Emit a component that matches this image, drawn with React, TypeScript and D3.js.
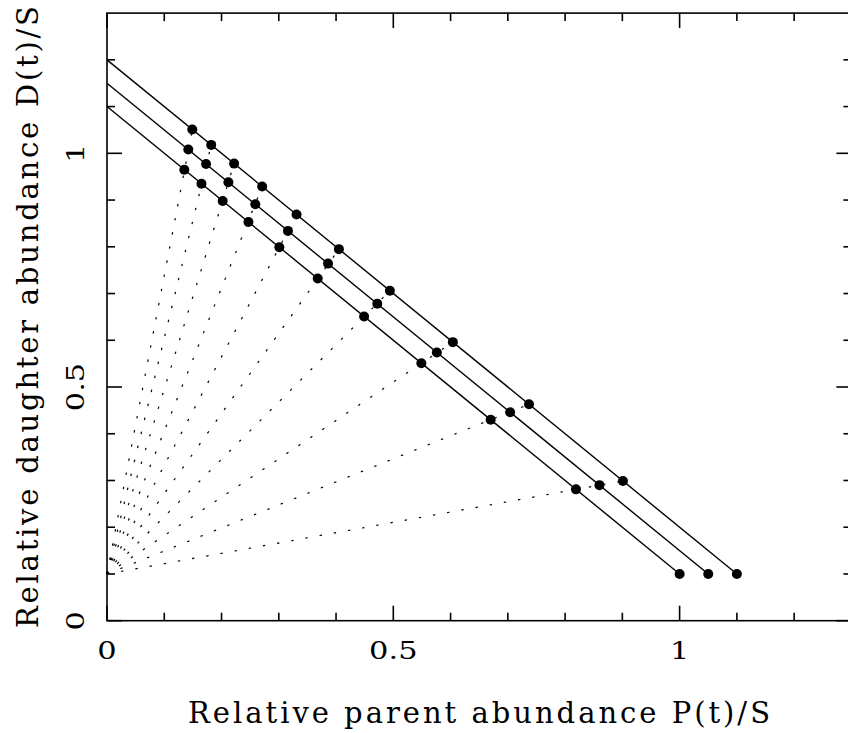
import React from "react";
import * as d3 from "d3";

// Initial daughter abundance shared by all samples
const D0 = 0.1;
// Initial parent abundance of each sample (P0)
const initialParent = [1.0, 1.05, 1.1];
// Intercept of each sample's evolution line at P = 0
const lineIntercepts = [1.1, 1.15, 1.2];

// Parent abundance P(t)/S at successive times for each sample
const parentInner = [1.0, 0.819, 0.67, 0.549, 0.449, 0.368, 0.301, 0.247, 0.202, 0.165, 0.135];
const parentMiddle = [1.05, 0.86, 0.704, 0.576, 0.472, 0.386, 0.316, 0.259, 0.212, 0.173, 0.142];
const parentOuter = [1.1, 0.901, 0.737, 0.604, 0.494, 0.405, 0.331, 0.271, 0.222, 0.182, 0.149];

// Daughter abundance D(t)/S at the same times
const daughterInner = [0.1, 0.281, 0.43, 0.551, 0.651, 0.732, 0.799, 0.853, 0.898, 0.935, 0.965];
const daughterMiddle = [0.1, 0.29, 0.446, 0.574, 0.678, 0.764, 0.834, 0.891, 0.938, 0.977, 1.008];
const daughterOuter = [0.1, 0.299, 0.463, 0.596, 0.706, 0.795, 0.869, 0.929, 0.978, 1.018, 1.051];

const xMajorTicks = [0, 0.5, 1];
const yMajorTicks = [0, 0.5, 1];
const xTickLabels = ["0", "0.5", "1"];
const yTickLabels = ["0", "0.5", "1"];
const minorTicks = [0.1, 0.2, 0.3, 0.4, 0.6, 0.7, 0.8, 0.9, 1.1, 1.2];

const xLabel = "Relative parent abundance P(t)/S";
const yLabel = "Relative daughter abundance D(t)/S";

const W = 848;
const H = 733;
const FONT = "'DejaVu Serif', serif";

export default function App() {
  const x = d3.scaleLinear().domain([0, 1.3]).range([107, 851.4]);
  const y = d3.scaleLinear().domain([0, 1.3]).range([620.7, 13.1]);
  const line = d3
    .line<[number, number]>()
    .x((d) => x(d[0]))
    .y((d) => y(d[1]));

  const series = [
    { p: parentInner, d: daughterInner },
    { p: parentMiddle, d: daughterMiddle },
    { p: parentOuter, d: daughterOuter },
  ];

  const majorLen = 15;
  const minorLen = 8;
  const x0 = x(0), x1 = x(1.3), y0 = y(0), y1 = y(1.3);

  const tickEls: JSX.Element[] = [];
  const addXTick = (v: number, len: number, k: string) => {
    tickEls.push(<line key={"xb" + k} x1={x(v)} x2={x(v)} y1={y0} y2={y0 - len} />);
    tickEls.push(<line key={"xt" + k} x1={x(v)} x2={x(v)} y1={y1} y2={y1 + len} />);
  };
  const addYTick = (v: number, len: number, k: string) => {
    tickEls.push(<line key={"yl" + k} x1={x0} x2={x0 + len} y1={y(v)} y2={y(v)} />);
    tickEls.push(<line key={"yr" + k} x1={x1} x2={x1 - len} y1={y(v)} y2={y(v)} />);
  };
  xMajorTicks.forEach((v, i) => addXTick(v, majorLen, "M" + i));
  minorTicks.forEach((v, i) => addXTick(v, minorLen, "m" + i));
  yMajorTicks.forEach((v, i) => addYTick(v, majorLen, "M" + i));
  minorTicks.forEach((v, i) => addYTick(v, minorLen, "m" + i));

  // isochrons: from (0, D0) to outer sample's point at each time (skip t=0)
  const isochrons = parentOuter.slice(1).map((p, i) => [
    [0, D0],
    [p, daughterOuter[i + 1]],
  ] as [number, number][]);

  return (
    <svg
      width={W}
      height={H}
      style={{ position: "absolute", left: 0, top: 0, background: "#fff" }}
    >
      <rect x={0} y={0} width={W} height={H} fill="#fff" />
      <g fill="none" stroke="#000" strokeWidth={1.2} strokeDasharray="2.4 12">
        {isochrons.map((pts, i) => (
          <path key={"iso" + i} d={line(pts) || ""} />
        ))}
      </g>
      <g fill="none" stroke="#000" strokeWidth={1.4}>
        {lineIntercepts.map((c, i) => (
          <path
            key={"ln" + i}
            d={line([
              [0, c],
              [initialParent[i], D0],
            ]) || ""}
          />
        ))}
      </g>
      <g fill="#000">
        {series.map((s, si) =>
          s.p.map((p, i) => (
            <circle key={"pt" + si + "-" + i} cx={x(p)} cy={y(s.d[i])} r={5} />
          ))
        )}
      </g>
      <g stroke="#000" strokeWidth={1.6}>
        {tickEls}
      </g>
      <rect
        x={x0}
        y={y1}
        width={x1 - x0}
        height={y0 - y1}
        fill="none"
        stroke="#000"
        strokeWidth={1.6}
      />
      <g fontFamily={FONT} fontSize={25} fill="#000">
        {xMajorTicks.map((v, i) => (
          <text
            key={"xl" + i}
            transform={`translate(${x(v)},659) scale(1.22,1)`}
            textAnchor="middle"
          >
            {xTickLabels[i]}
          </text>
        ))}
        {yMajorTicks.map((v, i) => (
          <text
            key={"yl" + i}
            transform={`translate(84,${y(v)}) rotate(-90) scale(1.22,1)`}
            textAnchor="middle"
          >
            {yTickLabels[i]}
          </text>
        ))}
      </g>
      <g fontFamily={FONT} fontSize={29} fill="#000">
        <text x={188} y={723} textLength={582} lengthAdjust="spacing">
          {xLabel}
        </text>
        <text
          transform={`translate(38,628) rotate(-90)`}
          textLength={622}
          lengthAdjust="spacing"
        >
          {yLabel}
        </text>
      </g>
    </svg>
  );
}
